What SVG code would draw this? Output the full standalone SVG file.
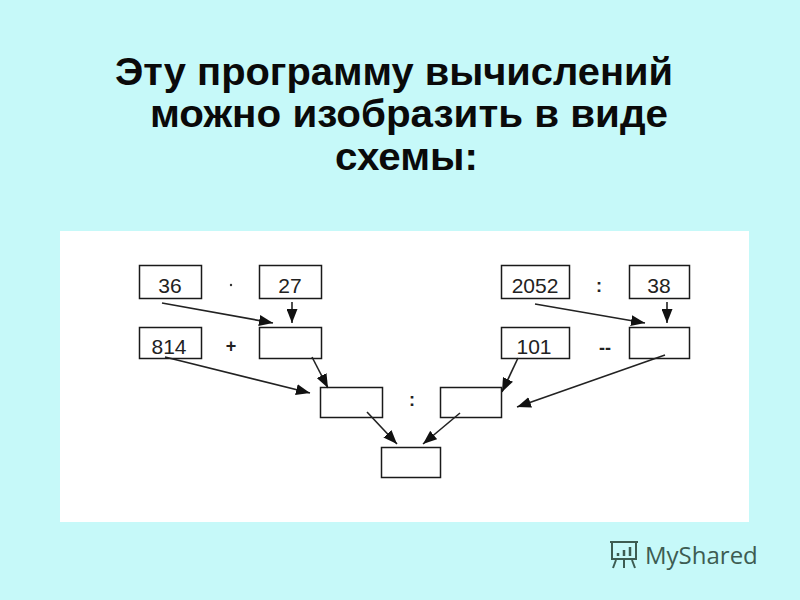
<svg xmlns="http://www.w3.org/2000/svg" width="800" height="600" viewBox="0 0 800 600">
<defs>
<marker id="ah" viewBox="0 0 14 11" refX="14" refY="5.5" markerWidth="14" markerHeight="11" markerUnits="userSpaceOnUse" orient="auto">
<path d="M0,0 L14,5.5 L0,11 Z" fill="#111"/>
</marker>
<style>
.title{font-family:"Liberation Sans",Arial,sans-serif;font-weight:bold;font-size:38px;fill:#0a0a0a}
.box{fill:#fff;stroke:#1a1a1a;stroke-width:1.5}
.num{font-family:"Liberation Sans",Arial,sans-serif;font-size:21px;fill:#222;text-anchor:middle}
.op{font-family:"Liberation Sans",Arial,sans-serif;font-weight:bold;font-size:18px;fill:#222;text-anchor:middle}
.conn line{stroke:#222;stroke-width:1.6;marker-end:url(#ah)}
</style>
</defs>
<rect width="800" height="600" fill="#C6F9F9"/>
<g id="title">
<text class="title" x="115" y="85" textLength="558" lengthAdjust="spacingAndGlyphs">Эту программу вычислений</text>
<text class="title" x="150" y="127" textLength="518" lengthAdjust="spacingAndGlyphs">можно изобразить в виде</text>
<text class="title" x="335" y="170" textLength="143" lengthAdjust="spacingAndGlyphs">схемы:</text>
</g>
<rect id="panel" x="60" y="231" width="689" height="291" fill="#fff"/>
<g id="n36"><rect class="box" x="139.5" y="265.5" width="62" height="33"/><text class="num" x="170" y="293">36</text></g>
<g id="n27"><rect class="box" x="259.5" y="265.5" width="62" height="33"/><text class="num" x="290" y="293">27</text></g>
<g id="n814"><rect class="box" x="139.5" y="327.5" width="62" height="31"/><text class="num" x="169" y="354">814</text></g>
<g id="r1"><rect class="box" x="259.5" y="327.5" width="62" height="31"/></g>
<g id="n2052"><rect class="box" x="501.5" y="265.5" width="68" height="33"/><text class="num" x="535" y="293">2052</text></g>
<g id="n38"><rect class="box" x="629.5" y="265.5" width="60" height="33"/><text class="num" x="659" y="293">38</text></g>
<g id="n101"><rect class="box" x="501.5" y="327.5" width="68" height="31"/><text class="num" x="534" y="354">101</text></g>
<g id="r2"><rect class="box" x="629.5" y="327.5" width="60" height="31"/></g>
<g id="r3"><rect class="box" x="320.5" y="387.5" width="62" height="30"/></g>
<g id="r4"><rect class="box" x="440.5" y="387.5" width="61" height="30"/></g>
<g id="r5"><rect class="box" x="381.5" y="447.5" width="59" height="30"/></g>
<g id="ops">
<circle cx="231" cy="285" r="1.2" fill="#333"/>
<text class="op" x="231" y="352">+</text>
<text class="op" x="599" y="292">:</text>
<text class="op" x="605" y="354">--</text>
<text class="op" x="412" y="406">:</text>
</g>
<g id="connectors" class="conn">
<line x1="162" y1="303" x2="273" y2="323"/>
<line x1="292" y1="302" x2="292" y2="323"/>
<line x1="165" y1="357" x2="310" y2="393"/>
<line x1="312" y1="357" x2="328" y2="388"/>
<line x1="535" y1="304" x2="645" y2="323"/>
<line x1="667" y1="302" x2="667" y2="323"/>
<line x1="518" y1="358" x2="502" y2="392"/>
<line x1="665" y1="355" x2="517" y2="407"/>
<line x1="367" y1="412" x2="397" y2="444"/>
<line x1="460" y1="413" x2="423" y2="444"/>
</g>
<g id="watermark" fill="none" stroke="#3d5c52" stroke-width="2">
<rect x="612" y="542" width="24" height="17"/>
<path d="M610,542 h28 M616,560 l-3,8 M624,560 v8 M632,560 l3,8"/>
<path d="M618,556 v-3 M624,556 v-6 M630,556 v-9" stroke-width="2.5"/>
<text x="645" y="564" stroke="none" fill="#3d5c52" font-family="'Open Sans',sans-serif" font-size="24">MyShared</text>
</g>
</svg>
